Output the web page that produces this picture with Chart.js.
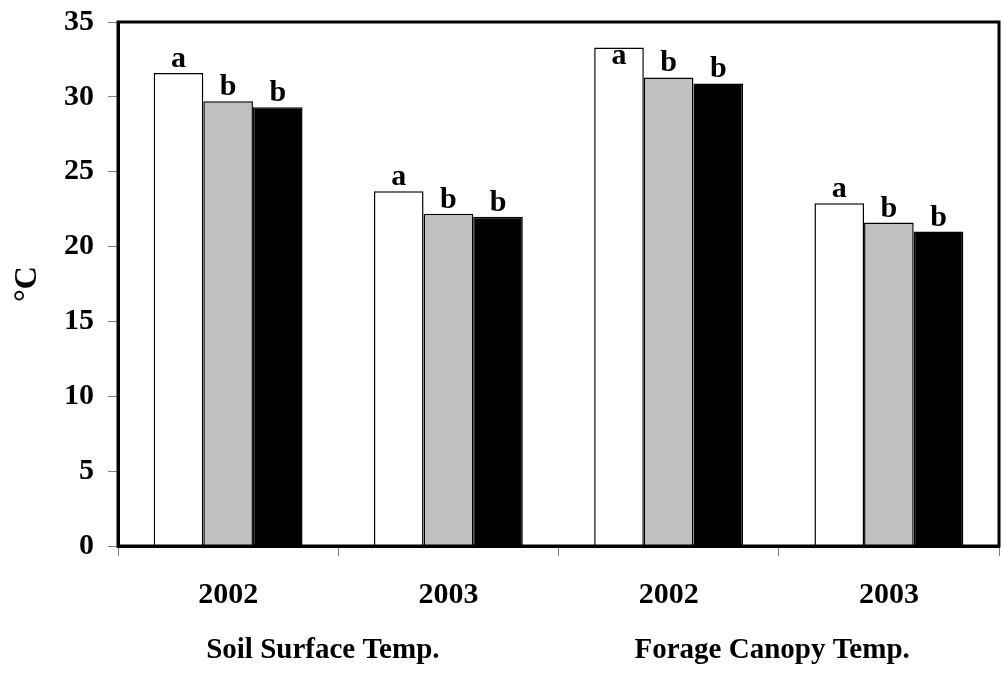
<!doctype html>
<html lang="en">
<head>
<meta charset="UTF-8" />
<title>Soil and canopy temperature</title>
<style>
  body { margin: 0; background: #fff; }
  canvas { display: block; }
</style>
</head>
<body>
<canvas id="canvas" width="1002" height="673"></canvas>

<script src="https://cdn.jsdelivr.net/npm/chart.js"></script>
<script>
// categories on the x axis and the group captions beneath them
const years = ['2002', '2003', '2002', '2003']
const groups = ['Soil Surface Temp.', 'Forage Canopy Temp.']
// three treatments (unnamed in the figure), values in degC
const whiteVals = [31.6, 23.7, 33.3, 22.9]
const grayVals = [29.7, 22.2, 31.3, 21.6]
const blackVals = [29.3, 22.0, 30.9, 21.0]
// letters printed above each bar
const whiteLetters = ['a', 'a', 'a', 'a']
const grayLetters = ['b', 'b', 'b', 'b']
const blackLetters = ['b', 'b', 'b', 'b']
const yTicks = [0, 5, 10, 15, 20, 25, 30, 35]

const FONT = '"Liberation Serif", "Times New Roman", serif'

const bar = (vals, fill, letters) => ({
  data: vals,
  backgroundColor: fill,
  borderColor: '#000',
  borderWidth: 1.5,
  letters: letters
})

// draws the a/b letters, the group captions and the box round the plot
const extras = {
  id: 'extras',
  afterDatasetsDraw(chart) {
    const {ctx, chartArea, scales} = chart
    ctx.save()
    ctx.fillStyle = '#000'
    ctx.textAlign = 'center'
    ctx.textBaseline = 'alphabetic'
    ctx.font = 'bold 30px ' + FONT
    chart.data.datasets.forEach((ds, i) => {
      chart.getDatasetMeta(i).data.forEach((el, j) => {
        let y = el.y - 6
        if (el.y - chartArea.top < 30) y = el.y + 17 // too close to the top: put it inside
        ctx.fillText(ds.letters[j], el.x, y)
      })
    })
    ctx.font = 'bold 29px ' + FONT
    ctx.textBaseline = 'middle'
    ctx.fillText(groups[0], scales.x.getPixelForValue(0.43), 651)
    ctx.fillText(groups[1], scales.x.getPixelForValue(2.47), 651)
    ctx.lineWidth = 3
    ctx.strokeStyle = '#000'
    ctx.strokeRect(chartArea.left, chartArea.top, chartArea.right - chartArea.left, chartArea.bottom - chartArea.top)
    ctx.restore()
  }
}

new Chart(document.getElementById('canvas'), {
  type: 'bar',
  data: {
    labels: years,
    datasets: [
      bar(whiteVals, '#ffffff', whiteLetters),
      bar(grayVals, '#c0c0c0', grayLetters),
      bar(blackVals, '#000000', blackLetters)
    ]
  },
  options: {
    responsive: false,
    animation: false,
    categoryPercentage: 0.676,
    barPercentage: 1.0,
    layout: { padding: { top: 22, right: 3, left: 0, bottom: 0 } },
    plugins: { legend: { display: false }, tooltip: { enabled: false } },
    scales: {
      x: {
        grid: { offset: true, drawOnChartArea: false, tickLength: 10, color: '#808080', lineWidth: 1 },
        border: { display: true, color: '#000', width: 3 },
        ticks: { color: '#000', padding: 21, font: { family: FONT, size: 30, weight: 'bold' } },
        afterFit: s => { s.height = 127; s.paddingLeft = 0; s.paddingRight = 0 }
      },
      y: {
        min: 0,
        max: 35,
        afterBuildTicks: s => { s.ticks = yTicks.map(v => ({value: v})) },
        grid: { drawOnChartArea: false, tickLength: 10, color: '#808080', lineWidth: 1 },
        border: { display: true, color: '#000', width: 3 },
        ticks: { color: '#000', padding: 14, font: { family: FONT, size: 30, weight: 'bold' } },
        title: { display: true, text: '\u00b0C', color: '#000', padding: { top: 9, bottom: 0 }, font: { family: FONT, size: 32, weight: 'bold' } },
        afterFit: s => { s.width = 118; s.paddingTop = 0; s.paddingBottom = 0 }
      }
    }
  },
  plugins: [extras]
})
</script>
</body>
</html>
